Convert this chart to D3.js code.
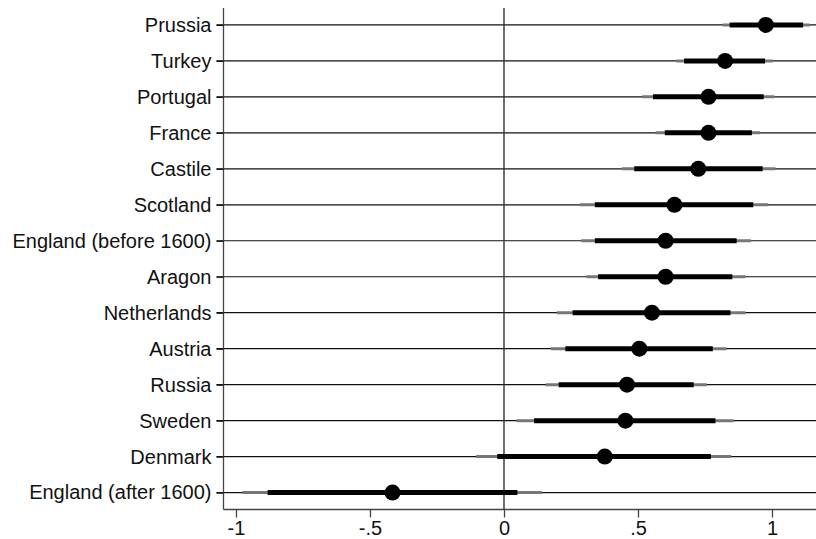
<!DOCTYPE html>
<html>
<head>
<meta charset="utf-8">
<script src="https://cdn.jsdelivr.net/npm/d3@7"></script>
<style>
  body { margin: 0; background: #fff; }
  text { font-family: "Liberation Sans", Arial, sans-serif; }
</style>
</head>
<body>
<svg id="chart" width="816" height="539"></svg>
<script>
// values
const countries = ["Prussia", "Turkey", "Portugal", "France", "Castile", "Scotland",
  "England (before 1600)", "Aragon", "Netherlands", "Austria", "Russia", "Sweden",
  "Denmark", "England (after 1600)"];
const estimate = [0.977, 0.825, 0.763, 0.763, 0.725, 0.636, 0.603, 0.603, 0.552, 0.505, 0.459, 0.453, 0.376, -0.416];
const ci90Low = [0.842, 0.672, 0.556, 0.600, 0.486, 0.339, 0.339, 0.351, 0.256, 0.229, 0.204, 0.112, -0.025, -0.882];
const ci90High = [1.116, 0.974, 0.969, 0.925, 0.965, 0.930, 0.868, 0.852, 0.845, 0.779, 0.708, 0.789, 0.772, 0.050];
const ci95Low = [0.816, 0.643, 0.516, 0.566, 0.439, 0.282, 0.288, 0.307, 0.197, 0.175, 0.156, 0.047, -0.104, -0.976];
const ci95High = [1.141, 1.003, 1.009, 0.955, 1.013, 0.986, 0.921, 0.901, 0.901, 0.830, 0.757, 0.857, 0.848, 0.141];
const xTicks = [-1, -0.5, 0, 0.5, 1];
const xTickLabels = ["-1", "-.5", "0", ".5", "1"];

const rows = countries.map((c, i) => ({
  name: c, est: estimate[i],
  lo90: ci90Low[i], hi90: ci90High[i],
  lo95: ci95Low[i], hi95: ci95High[i]
}));

const svg = d3.select("#chart"),
  W = +svg.attr("width"),
  plotLeft = 223.5, plotTop = 8, plotBottom = 509.5;

const x = d3.scaleLinear().domain([-1, 1]).range([236, 772]);
const y = d3.scalePoint().domain(countries).range([plotTop, plotBottom]).padding(0.47);

// row lines
svg.append("g")
  .selectAll("line")
  .data(rows)
  .enter()
  .append("line")
  .attr("x1", plotLeft - 7)
  .attr("x2", W)
  .attr("y1", d => y(d.name))
  .attr("y2", d => y(d.name))
  .attr("stroke", "#111")
  .attr("stroke-width", 1.2);

// zero reference line
svg.append("line")
  .attr("x1", x(0)).attr("x2", x(0))
  .attr("y1", plotTop).attr("y2", plotBottom)
  .attr("stroke", "#333")
  .attr("stroke-width", 1.4);

// y axis
const yAxis = svg.append("g")
  .attr("transform", "translate(" + plotLeft + ",0)")
  .call(d3.axisLeft(y).tickSize(7).tickPadding(5));
yAxis.select(".domain").attr("d", "M0," + plotTop + "V" + plotBottom).attr("stroke", "#444").attr("stroke-width", 1.3);
yAxis.selectAll(".tick line").attr("stroke", "#111").attr("stroke-width", 1.2);
yAxis.selectAll("text").attr("font-size", 20).attr("fill", "#111")
  .attr("font-family", "Liberation Sans, Arial, sans-serif");

// x axis
const xAxis = svg.append("g")
  .attr("transform", "translate(0," + plotBottom + ")")
  .call(d3.axisBottom(x).tickValues(xTicks).tickFormat((d, i) => xTickLabels[i]).tickSize(8).tickPadding(3));
xAxis.select(".domain").attr("d", "M" + plotLeft + ",0H" + W).attr("stroke", "#444").attr("stroke-width", 1.3);
xAxis.selectAll(".tick line").attr("stroke", "#444").attr("stroke-width", 1.3);
xAxis.selectAll("text").attr("font-size", 20).attr("fill", "#111")
  .attr("font-family", "Liberation Sans, Arial, sans-serif");

// 95% intervals
svg.append("g")
  .selectAll("line")
  .data(rows)
  .enter()
  .append("line")
  .attr("x1", d => x(d.lo95))
  .attr("x2", d => x(d.hi95))
  .attr("y1", d => y(d.name))
  .attr("y2", d => y(d.name))
  .attr("stroke", "#777")
  .attr("stroke-width", 3);

// 90% intervals
svg.append("g")
  .selectAll("line")
  .data(rows)
  .enter()
  .append("line")
  .attr("x1", d => x(d.lo90))
  .attr("x2", d => x(d.hi90))
  .attr("y1", d => y(d.name))
  .attr("y2", d => y(d.name))
  .attr("stroke", "#000")
  .attr("stroke-width", 5);

// point estimates
svg.append("g")
  .selectAll("circle")
  .data(rows)
  .enter()
  .append("circle")
  .attr("cx", d => x(d.est))
  .attr("cy", d => y(d.name))
  .attr("r", 8)
  .attr("fill", "#000");
</script>
</body>
</html>
